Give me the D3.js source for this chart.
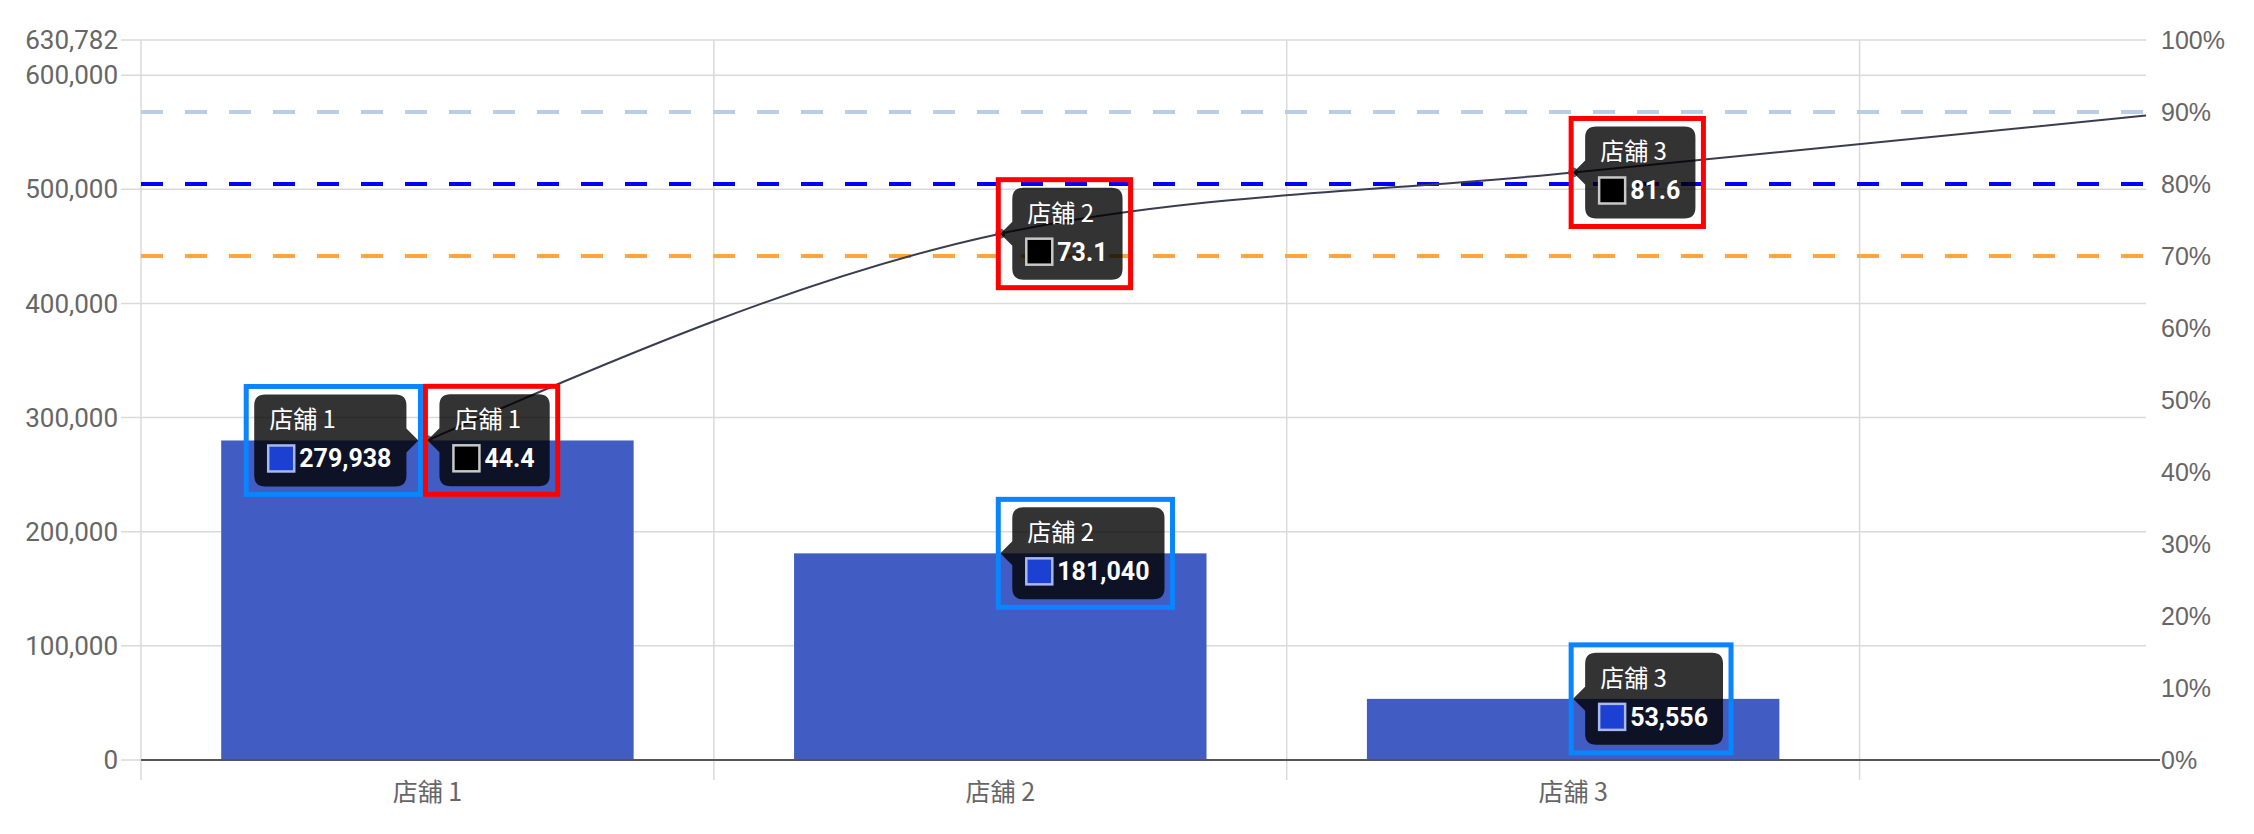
<html>
<head>
<meta charset="utf-8">
<script src="https://d3js.org/d3.v7.min.js"></script>
<style>
  body { margin: 0; background: #fff; }
</style>
</head>
<body>
<svg id="myPlot" width="2254" height="834"></svg>
<script>
// Data
const stores = ["店舖 1", "店舖 2", "店舖 3"];
const sales = [279938, 181040, 53556];
const salesMax = 630782;
// cumulative share (%), last point sits on the right edge of the plot
const cumPct = [44.4, 73.1, 81.6, 89.5];
const leftTicks = [0, 100000, 200000, 300000, 400000, 500000, 600000, 630782];
const rightTicks = [0, 10, 20, 30, 40, 50, 60, 70, 80, 90, 100];
const refLevels = [90, 80, 70];
const refColors = ["#b9cde6", "#0000ff", "#ffa53b"];

// tooltips shown on the picture: which series, which store, caret side
const tipSeries = ["bar", "line", "line", "bar", "line", "bar"];
const tipIndex = [0, 0, 1, 1, 2, 2];
const tipSide = ["right", "left", "left", "left", "left", "left"];

// Set Dimensions
const plotL = 141, plotR = 2146, plotT = 40, plotB = 760;
const svg = d3.select("#myPlot");

const x = d3.scaleLinear().domain([-0.5, 3]).range([plotL, plotR]);
const yL = d3.scaleLinear().domain([0, salesMax]).range([plotB, plotT]);
const yR = d3.scaleLinear().domain([0, 100]).range([plotB, plotT]);
const band = x(1) - x(0);

// Horizontal grid + left ticks
svg.append("g").selectAll("line")
  .data(leftTicks).enter().append("line")
  .attr("x1", plotL - 20).attr("x2", plotR)
  .attr("y1", d => yL(d)).attr("y2", d => yL(d))
  .attr("stroke", "#dadada").attr("stroke-width", 1.5);

svg.append("g").selectAll("text")
  .data(leftTicks).enter().append("text")
  .attr("x", 118).attr("y", d => yL(d))
  .attr("dy", "0.35em")
  .attr("text-anchor", "end")
  .style("font", "26px Roboto, sans-serif")
  .style("fill", "#666")
  .text(d => d3.format(",")(d));

// Vertical grid lines between stores
svg.append("g").selectAll("line")
  .data([-0.5, 0.5, 1.5, 2.5]).enter().append("line")
  .attr("x1", d => x(d)).attr("x2", d => x(d))
  .attr("y1", plotT).attr("y2", plotB + 20)
  .attr("stroke", "#dadada").attr("stroke-width", 1.5);

// Right axis labels
svg.append("g").selectAll("text")
  .data(rightTicks).enter().append("text")
  .attr("x", 2161).attr("y", d => yR(d))
  .attr("dy", "0.35em")
  .style("font", "25px 'Liberation Sans', Arial, sans-serif")
  .style("fill", "#666")
  .text(d => d + "%");

// Bars
svg.append("g").selectAll("rect")
  .data(sales).enter().append("rect")
  .attr("x", (d, i) => x(i) - band * 0.36)
  .attr("width", band * 0.72)
  .attr("y", d => yL(d))
  .attr("height", d => plotB - yL(d))
  .attr("fill", "#415dc3");

// Baseline
svg.append("line")
  .attr("x1", plotL).attr("x2", plotR + 14)
  .attr("y1", plotB).attr("y2", plotB)
  .attr("stroke", "#555").attr("stroke-width", 2);

// X labels
svg.append("g").selectAll("text")
  .data(stores).enter().append("text")
  .attr("x", (d, i) => x(i)).attr("y", plotB + 32)
  .attr("dy", "0.35em")
  .attr("text-anchor", "middle")
  .style("font", "25px 'Noto Sans CJK TC', sans-serif")
  .style("fill", "#666")
  .text(d => d);

// Reference lines (90 / 80 / 70 %)
svg.append("g").selectAll("line")
  .data(refLevels).enter().append("line")
  .attr("x1", plotL).attr("x2", plotR)
  .attr("y1", d => yR(d)).attr("y2", d => yR(d))
  .attr("stroke", (d, i) => refColors[i])
  .attr("stroke-width", 4)
  .attr("stroke-dasharray", "22,22");

// Pareto line
const line = d3.line()
  .x((d, i) => x(i))
  .y(d => yR(d))
  .curve(d3.curveMonotoneX);

svg.append("path")
  .datum(cumPct)
  .attr("d", line)
  .attr("fill", "none")
  .attr("stroke", "#3a3d50")
  .attr("stroke-width", 2);

svg.append("g").selectAll("circle")
  .data(cumPct.slice(0, 3)).enter().append("circle")
  .attr("cx", (d, i) => x(i))
  .attr("cy", d => yR(d))
  .attr("r", 5)
  .attr("fill", "#5b5f70");

// Tooltips
function tipPath(x0, y0, w, h, r, side, ty) {
  const x1 = x0 + w, y1 = y0 + h, c = 12, cw = 12;
  let p = "M" + (x0 + r) + "," + y0 + " H" + (x1 - r) + " Q" + x1 + "," + y0 + " " + x1 + "," + (y0 + r);
  if (side === "right") p += " V" + (ty - c) + " L" + (x1 + cw) + "," + ty + " L" + x1 + "," + (ty + c);
  p += " V" + (y1 - r) + " Q" + x1 + "," + y1 + " " + (x1 - r) + "," + y1 + " H" + (x0 + r) + " Q" + x0 + "," + y1 + " " + x0 + "," + (y1 - r);
  if (side === "left") p += " V" + (ty + c) + " L" + (x0 - cw) + "," + ty + " L" + x0 + "," + (ty - c);
  p += " V" + (y0 + r) + " Q" + x0 + "," + y0 + " " + (x0 + r) + "," + y0 + " Z";
  return p;
}

const tipLayer = svg.append("g");
tipSeries.forEach((s, k) => {
  const i = tipIndex[k], side = tipSide[k];
  const ax = x(i);
  const ay = s === "bar" ? yL(sales[i]) : yR(cumPct[i]);
  const value = s === "bar" ? d3.format(",")(sales[i]) : cumPct[i].toFixed(1);
  const g = tipLayer.append("g");

  const path = g.append("path");
  const title = g.append("text")
    .style("font", "24px 'Noto Sans CJK TC', sans-serif")
    .style("fill", "#fff")
    .text(stores[i]);
  const body = g.append("text")
    .style("font", "bold 25px Roboto, sans-serif")
    .style("fill", "#fff")
    .text(value);
  const sq = g.append("rect")
    .attr("width", 26).attr("height", 26)
    .attr("fill", s === "bar" ? "#1b40d2" : "#000")
    .attr("stroke", s === "bar" ? "#a9b8ee" : "#c8c8c8")
    .attr("stroke-width", 2.5);

  const tw = title.node().getComputedTextLength();
  const bw = body.node().getComputedTextLength();
  const w = Math.max(15 + tw, 45 + bw) + 15;
  const h = 92;
  const tip = side === "right" ? ax - 9 : ax;
  const x0 = side === "right" ? tip - 12 - w : tip + 12;
  const y0 = ay - h / 2;

  path.attr("d", tipPath(x0, y0, w, h, 11, side, ay))
    .attr("fill", "rgba(0,0,0,0.8)");
  title.attr("x", x0 + 15).attr("y", y0 + 34);
  sq.attr("x", x0 + 14).attr("y", y0 + 51);
  body.attr("x", x0 + 45).attr("y", y0 + 73);

  // highlight frame round each tooltip
  const fx0 = side === "left" ? tip - 2 : x0 - 8;
  const fx1 = side === "right" ? tip + 2 : x0 + w + 8;
  g.append("rect")
    .attr("x", fx0).attr("y", y0 - 8)
    .attr("width", fx1 - fx0).attr("height", h + 16)
    .attr("fill", "none")
    .attr("stroke", s === "bar" ? "#0a84ff" : "#ff0000")
    .attr("stroke-width", 5);
});
</script>
</body>
</html>
